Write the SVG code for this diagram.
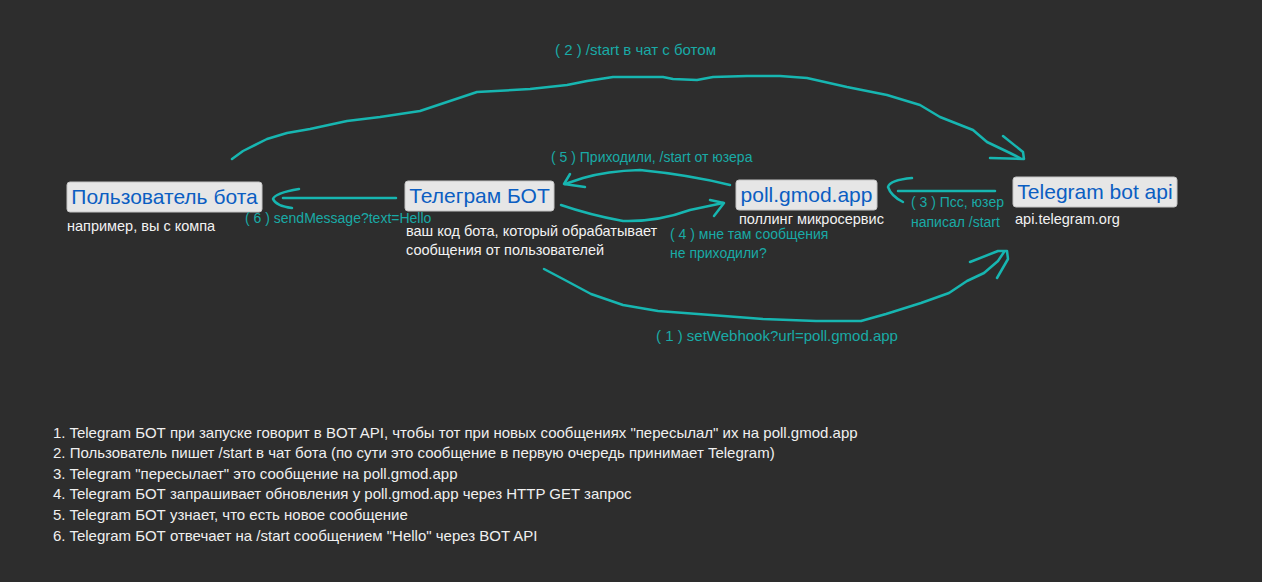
<svg xmlns="http://www.w3.org/2000/svg" width="1262" height="582" viewBox="0 0 1262 582">
<style>
.bg{fill:#2d2d2d}
.box{fill:#e6e6e6;stroke:#c4c4c4;stroke-width:1}
.title{font-family:"Liberation Sans",Arial,sans-serif;font-size:21px;fill:#0b5ec2;text-anchor:middle}
.sub{font-family:"Liberation Sans",Arial,sans-serif;font-size:14.5px;fill:#f2f2f2}
.lbl{font-family:"Liberation Sans",Arial,sans-serif;font-size:14px;fill:#19aaa6}
.lbl.big{font-size:15px}
.list{font-family:"Liberation Sans",Arial,sans-serif;font-size:15px;fill:#f0f0f0}
.ln{fill:none;stroke:#17b6b1;stroke-width:2.5;stroke-linecap:round;stroke-linejoin:round}
</style>
<rect class="bg" x="0" y="0" width="1262" height="582"/>
<g id="connectors">
  <g id="c2">
    <path class="ln" d="M232,159 L243,151 L267,139 L287,133 L310,129 L347,121 L380,117 L420,111 L450,101 L477,92 L530,89 L567,85 L587,81 L613,77 L663,77 L673,79 L697,80 L713,77 L747,76 L780,76 L807,78 L847,87 L887,95 L920,105 L940,117 L973,130 L987,142 L1010,153 L1020,158"/>
    <path class="ln" d="M1003,136 L1023,152 L1024,159 L990,158"/>
  </g>
  <g id="c6">
    <path class="ln" d="M396,198 L283,198"/>
    <path class="ln" d="M299,189 Q275,193 273,199 Q276,206 292,208"/>
  </g>
  <g id="c5">
    <path class="ln" d="M730,185 Q690,175 640,170 Q607,171 583,178 L565,184"/>
    <path class="ln" d="M570,174 L564,184 L585,187"/>
  </g>
  <g id="c4">
    <path class="ln" d="M561,205 Q590,215 623,221 Q657,222 690,210 L723,203"/>
    <path class="ln" d="M710,200 L724,203 L714,216"/>
  </g>
  <g id="c3">
    <path class="ln" d="M995,191 L898,191"/>
    <path class="ln" d="M912,178 Q890,180 888,187 Q891,196 903,202"/>
  </g>
  <g id="c1">
    <path class="ln" d="M544,269 L563,279 L591,294 L623,305 L658,311 L711,315 L763,319 L816,321 L861,321 L886,314 L921,303 L949,293 L967,281 L984,273 L998,261 L1004,252"/>
    <path class="ln" d="M970,262 L998,251 L1007,251 L1008,259 L997,278"/>
  </g>
</g>
<g id="node-user">
  <rect class="box" x="67" y="182" width="195" height="30" rx="3"/>
  <text class="title" x="164.5" y="204">Пользователь бота</text>
  <text class="sub" x="67" y="231">например, вы с компа</text>
</g>
<g id="node-bot">
  <rect class="box" x="405" y="181" width="149" height="30" rx="3"/>
  <text class="title" x="479.5" y="203">Телеграм БОТ</text>
  <text class="sub" x="406" y="236">ваш код бота, который обрабатывает</text>
  <text class="sub" x="406" y="255">сообщения от пользователей</text>
</g>
<g id="node-poll">
  <rect class="box" x="736" y="180" width="141" height="30" rx="3"/>
  <text class="title" x="806.5" y="202">poll.gmod.app</text>
  <text class="sub" x="739" y="224">поллинг микросервис</text>
</g>
<g id="node-api">
  <rect class="box" x="1013" y="177" width="164" height="30" rx="3"/>
  <text class="title" x="1095" y="199">Telegram bot api</text>
  <text class="sub" x="1015" y="224">api.telegram.org</text>
</g>
<g id="labels">
  <text class="lbl big" x="555" y="55">( 2 ) /start в чат с ботом</text>
  <text class="lbl" x="551" y="162">( 5 ) Приходили, /start от юзера</text>
  <text class="lbl" x="245" y="223">( 6 ) sendMessage?text=Hello</text>
  <text class="lbl" x="670" y="239">( 4 ) мне там сообщения</text>
  <text class="lbl" x="670" y="258">не приходили?</text>
  <text class="lbl" x="911" y="207">( 3 ) Псс, юзер</text>
  <text class="lbl" x="911" y="227">написал /start</text>
  <text class="lbl big" x="656" y="341">( 1 ) setWebhook?url=poll.gmod.app</text>
</g>
<g id="legend">
  <text class="list" x="53" y="438">1. Telegram БОТ при запуске говорит в BOT API, чтобы тот при новых сообщениях "пересылал" их на poll.gmod.app</text>
  <text class="list" x="53" y="458">2. Пользователь пишет /start в чат бота (по сути это сообщение в первую очередь принимает Telegram)</text>
  <text class="list" x="53" y="479">3. Telegram "пересылает" это сообщение на poll.gmod.app</text>
  <text class="list" x="53" y="499">4. Telegram БОТ запрашивает обновления у poll.gmod.app через HTTP GET запрос</text>
  <text class="list" x="53" y="520">5. Telegram БОТ узнает, что есть новое сообщение</text>
  <text class="list" x="53" y="541">6. Telegram БОТ отвечает на /start сообщением "Hello" через BOT API</text>
</g>
</svg>
